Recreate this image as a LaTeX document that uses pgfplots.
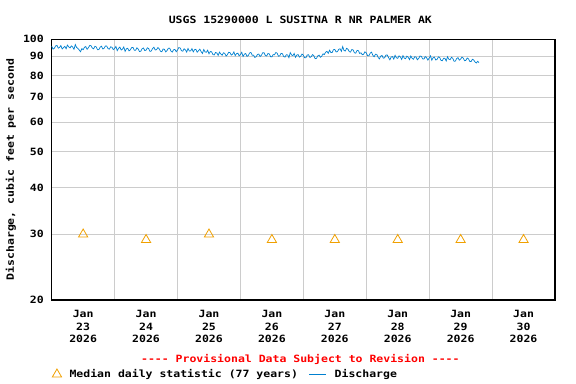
\documentclass[border=0pt]{standalone}
\usepackage{fontspec}
\setmainfont[FakeStretch=1.15, Ligatures=TeXOff]{DejaVu Sans Mono}
\usepackage{pgfplots}
\usepackage{pgfplotstable}
\pgfplotsset{compat=1.18}
\definecolor{dis}{RGB}{0,128,208}
\definecolor{med}{RGB}{240,160,0}
\definecolor{gridc}{RGB}{204,204,204}
\newcommand{\ff}{\fontsize{10bp}{12.7bp}\selectfont\bfseries}
\pgfplotstableread{
h v
0 95.8
0.5 94.1
1 94.6
1.5 96.0
2 96.3
2.5 94.7
3 95.1
3.5 96.2
4 94.2
4.5 95.0
5 95.7
5.5 94.3
6 96.5
6.5 95.4
7 94.8
7.5 96.0
8 95.3
8.5 94.0
9 96.8
9.5 95.1
10 94.5
10.5 93.6
11 92.6
11.5 94.4
12 93.8
12.5 95.2
13 95.6
13.5 94.0
14 94.9
14.5 96.3
15 96.1
15.5 94.7
16 94.3
16.5 95.8
17 95.4
17.5 93.7
18 93.9
18.5 95.3
19 95.8
19.5 94.2
20 94.6
20.5 96.0
21 95.9
21.5 94.4
22 94.1
22.5 95.5
23 95.2
23.5 93.8
24 94.5
24.5 95.7
25 93.2
25.5 94.6
26 95.3
26.5 93.6
27 94.1
27.5 95.4
28 92.8
28.5 94.3
29 94.6
29.5 93.1
30 93.7
30.5 95.0
31 95.1
31.5 93.5
32 93.4
32.5 94.9
33 94.2
33.5 92.7
34 92.9
34.5 94.4
35 94.8
35.5 93.3
36 93.5
36.5 94.9
37 94.4
37.5 92.8
38 93.0
38.5 94.5
39 95.2
39.5 93.6
40 93.8
40.5 95.0
41 94.3
41.5 92.9
42 92.6
42.5 94.2
43 94.0
43.5 92.5
44 93.3
44.5 94.6
45 94.7
45.5 93.0
46 92.4
46.5 93.8
47 93.9
47.5 92.6
48 93.6
48.5 95.0
49 94.8
49.5 93.2
50 92.9
50.5 94.3
51 93.7
51.5 92.4
52 94.5
52.5 93.0
53 93.1
53.5 94.4
54 92.5
54.5 93.8
55 94.0
55.5 92.3
56 93.2
56.5 94.1
57 92.7
57.5 91.6
58 93.9
58.5 92.5
59 92.3
59.5 93.5
60 91.4
60.5 92.7
61 92.6
61.5 91.0
62 90.8
62.5 92.2
63 91.9
63.5 90.5
64 92.4
64.5 91.3
65 90.6
65.5 92.0
66 91.7
66.5 90.2
67 90.9
67.5 92.3
68 92.1
68.5 90.7
69 91.2
69.5 92.5
70 90.4
70.5 91.5
71 91.8
71.5 90.3
72 91.0
72.5 92.3
73 89.9
73.5 91.2
74 91.6
74.5 90.0
75 90.5
75.5 91.9
76 92.2
76.5 90.6
77 90.7
77.5 89.4
78 89.8
78.5 91.1
79 91.3
79.5 89.9
80 90.6
80.5 92.0
81 92.0
81.5 90.5
82 90.2
82.5 91.6
83 91.4
83.5 89.8
84 89.7
84.5 91.0
85 90.9
85.5 92.2
86 91.8
86.5 90.1
87 90.3
87.5 91.7
88 91.5
88.5 89.9
89 89.6
89.5 90.9
90 90.8
90.5 89.3
91 92.1
91.5 90.8
92 90.4
92.5 91.6
93 89.5
93.5 90.7
94 91.0
94.5 89.6
95 90.1
95.5 91.3
96 90.6
96.5 89.2
97 89.3
97.5 90.8
98 90.9
98.5 89.4
99 89.8
99.5 91.0
100 90.4
100.5 88.7
101 88.9
101.5 90.3
102 90.7
102.5 89.5
103 90.1
103.5 91.4
104 91.0
104.5 92.4
105 92.8
105.5 91.7
106 93.5
106.5 92.1
107 92.2
107.5 93.8
108 93.9
108.5 92.5
109 92.6
109.5 94.0
110 94.3
110.5 92.8
111 95.6
111.5 93.4
112 93.0
112.5 94.6
113 94.1
113.5 92.7
114 92.4
114.5 93.9
115 93.6
115.5 92.0
116 91.8
116.5 93.4
117 93.2
117.5 91.6
118 92.0
118.5 90.9
119 91.2
119.5 92.6
120 91.9
120.5 90.4
121 90.3
121.5 91.8
122 92.4
122.5 90.6
123 89.8
123.5 91.2
124 91.1
124.5 89.5
125 88.6
125.5 90.1
126 90.5
126.5 89.0
127 89.2
127.5 90.7
128 90.8
128.5 89.3
129 88.1
129.5 89.6
130 89.9
130.5 88.5
131 90.6
131.5 89.2
132 88.9
132.5 90.3
133 89.7
133.5 88.3
134 90.4
134.5 89.0
135 88.7
135.5 90.1
136 89.5
136.5 88.2
137 90.2
137.5 88.9
138 88.4
138.5 89.8
139 89.6
139.5 88.1
140 88.8
140.5 90.2
141 90.0
141.5 88.6
142 88.5
142.5 89.9
143 89.3
143.5 87.9
144 89.1
144.5 90.3
145 87.9
145.5 89.2
146 89.6
146.5 88.0
147 88.3
147.5 89.7
148 89.4
148.5 87.8
149 87.6
149.5 89.0
150 88.9
150.5 87.5
151 89.8
151.5 88.4
152 88.2
152.5 89.5
153 88.9
153.5 87.3
154 87.4
154.5 88.8
155 89.3
155.5 87.9
156 88.5
156.5 89.6
157 89.0
157.5 87.6
158 87.8
158.5 89.1
159 88.6
159.5 87.2
160 87.2
160.5 88.4
161 88.0
161.5 86.9
162 86.4
162.5 87.3
163 86.6
}\discharge
\pgfplotstableread{
h v
12 30
36 29
60 30
84 29
108 29
132 29
156 29
180 29
}\median
\begin{document}
\begin{tikzpicture}[font=\ff]
\useasboundingbox (0,0) rectangle (576bp,384bp);
\begin{axis}[
  at={(51.7bp,84bp)}, anchor=south west,
  scale only axis, width=503.3bp, height=260.7bp,
  ymode=log, xmin=0, xmax=192, ymin=20, ymax=100,
  clip=false,
  axis line style={line width=1.5bp, black},
  /pgf/number format/assume math mode=true,
  xtick={12,36,60,84,108,132,156,180},
  xticklabels={{Jan\\23\\2026},{Jan\\24\\2026},{Jan\\25\\2026},{Jan\\26\\2026},{Jan\\27\\2026},{Jan\\28\\2026},{Jan\\29\\2026},{Jan\\30\\2026}},
  xticklabel style={align=center, font=\ff, yshift=-6.5bp},
  minor xtick={24,48,72,96,120,144,168},
  xminorgrids=true,
  ytick={20,30,40,50,60,70,80,90,100},
  yticklabels={20,30,40,50,60,70,80,90,100},
  yticklabel style={font=\ff, xshift=-4.4bp},
  minor ytick={},
  ymajorgrids=true,
  major tick length=0pt, minor tick length=0pt,
  grid style={gridc, line width=1bp},
  minor grid style={gridc, line width=1bp},
  ylabel={Discharge, cubic feet per second},
  every axis y label/.style={at={(axis description cs:-0.081,0.5)}, rotate=90, anchor=center, font=\ff},
  title={USGS 15290000 L SUSITNA R NR PALMER AK},
  every axis title/.style={at={(axis description cs:0.494,1.074)}, anchor=center, font=\ff},
  legend style={at={(axis description cs:-0.005,-0.285)}, anchor=west, draw=none, fill=none, font=\ff, legend columns=2, /tikz/every odd column/.append style={column sep=6bp}, /tikz/every even column/.append style={column sep=9bp}},
]
\addplot[only marks, mark=triangle, mark size=5.3bp, mark options={med, line width=0.8bp}] table[x=h, y=v] {\median};
\addlegendentry{Median daily statistic (77 years)}
\addplot[dis, line width=0.7bp] table[x=h, y=v] {\discharge};
\addlegendentry{Discharge}
\node[anchor=base, text=red, font=\ff] at (axis description cs:0.494,-0.2398) {---- Provisional Data Subject to Revision ----};
\end{axis}
\end{tikzpicture}
\end{document}
